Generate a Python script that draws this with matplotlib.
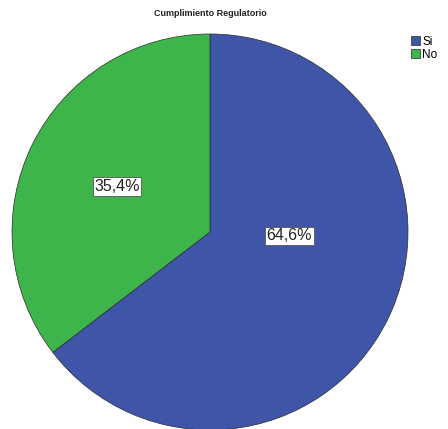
import matplotlib.pyplot as plt

# datos
categorias = ["Si", "No"]
porcentajes = [64.6, 35.4]
colores = ["#3F55A8", "#3DB54A"]

plt.rcParams['font.family'] = ['Liberation Sans', 'DejaVu Sans']

fig = plt.figure(figsize=(4.48, 4.29), dpi=100)
# centro ~ (210, 232) px, radio ~198 px
ax = fig.add_axes([12 / 448, (429 - 232 - 198) / 429, 396 / 448, 396 / 429])

wedges, textos, autotextos = ax.pie(
    porcentajes, colors=colores, startangle=90, counterclock=False,
    radius=1, autopct=lambda p: f"{p:.1f}%".replace('.', ','), pctdistance=0.5,
    wedgeprops=dict(edgecolor='#2a2a2a', linewidth=0.5),
    textprops=dict(fontsize=11.5, color='#222222'))

# posiciones de etiquetas como en el original
posiciones = [(0.40, -0.02), (-0.47, 0.23)]
for t, pos in zip(autotextos, posiciones):
    t.set_position(pos)
    t.set_bbox(dict(facecolor='white', edgecolor='#555555', linewidth=0.6, pad=1.2))

ax.set_xlim(-1, 1)
ax.set_ylim(-1, 1)
ax.set_aspect('equal')

fig.text(210 / 448, 1 - 14 / 429, "Cumplimiento Regulatorio", ha='center', va='center',
         fontsize=6.5, fontweight='bold', color='#222222')

fig.legend(wedges, categorias, loc='upper left', bbox_to_anchor=(411 / 448, 1 - 36 / 429),
           frameon=False, fontsize=8.5, handlelength=0.8, handleheight=0.8,
           handletextpad=0.15, labelspacing=0.05, borderpad=0, borderaxespad=0)

fig.savefig("out.png", dpi=100)
